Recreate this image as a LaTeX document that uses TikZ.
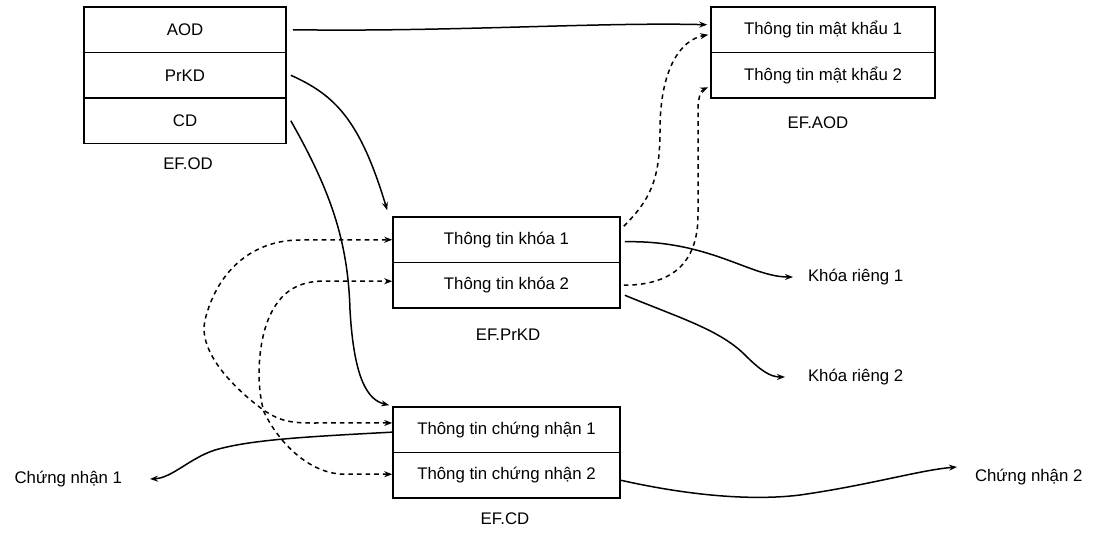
\documentclass[tikz,border=0pt]{standalone}
\usepackage{fontspec}
\setmainfont{Liberation Sans}
\usetikzlibrary{arrows.meta}
\begin{document}
\begin{tikzpicture}[x=0.5pt,y=-0.5pt,
  txt/.style={font=\fontsize{8.4}{10}\selectfont},
  cell/.style={txt, draw, line width=0.8pt, inner sep=0pt, minimum height=22.75pt},
  odcell/.style={cell, minimum width=101pt},
  aodcell/.style={cell, minimum width=112pt},
  filecell/.style={cell, minimum width=113.5pt},
  lbl/.style={txt, inner sep=0pt},
  ptip/.tip={Stealth[length=4pt,width=3pt]},
  link/.style={line width=0.75pt, -{ptip}},
  dlink/.style={line width=0.75pt, dash pattern=on 2.3pt off 2pt},
]
\useasboundingbox (0,0) rectangle (1096,534);

% EF.OD
\node[odcell] (aod)  at (185,29.75)  {AOD};
\node[odcell] (prkd) at (185,75.25)  {PrKD};
\node[odcell] (cd)   at (185,120.75) {CD};
\node[lbl] (lod) at (188,164) {EF.OD};

% EF.AOD
\node[aodcell] (mk1) at (823,29.75) {Thông tin mật khẩu 1};
\node[aodcell] (mk2) at (823,75.25) {Thông tin mật khẩu 2};
\node[lbl] (laod) at (818,123) {EF.AOD};

% EF.PrKD
\node[filecell] (pk1) at (506.5,239.75) {Thông tin khóa 1};
\node[filecell] (pk2) at (506.5,285.25) {Thông tin khóa 2};
\node[lbl] (lprkd) at (508,335) {EF.PrKD};

% EF.CD
\node[filecell] (cn1) at (506.5,429.75) {Thông tin chứng nhận 1};
\node[filecell] (cn2) at (506.5,475.25) {Thông tin chứng nhận 2};
\node[lbl] (lcd) at (505,519) {EF.CD};

% end labels
\node[lbl, anchor=west, outer xsep=7.5pt] (kr1) at (793,277) {Khóa riêng 1};
\node[lbl, anchor=west, outer xsep=11.5pt] (kr2) at (785,377) {Khóa riêng 2};
\node[lbl, anchor=east, outer xsep=14pt] (c1) at (150,479) {Chứng nhận 1};
\node[lbl, anchor=west, outer xsep=9pt] (c2) at (957,477) {Chứng nhận 2};

% EF.OD entries pointing to their files
\draw[link] ([xshift=3pt]aod.east) .. controls (450,32) and (600,22) .. ([shift={(-1.5pt,2.5pt)}]mk1.west);
\draw[link] ([xshift=2pt]prkd.east) .. controls (335,95) and (360,120) .. ([shift={(-2.5pt,3pt)}]pk1.north west);
\draw[link] ([xshift=2pt]cd.east) .. controls (330,190) and (348,240) .. (350,310)
  .. controls (354,380) and (368,400) .. ([shift={(-1.5pt,0.5pt)}]cn1.north west);

% key info to private keys
\draw[link] ([xshift=2pt,yshift=-1pt]pk1.east) .. controls (710,240) and (750,277) .. (kr1.west);
\draw[link] ([xshift=2pt,yshift=-5pt]pk2.east) .. controls (680,318) and (720,330) .. (745,355)
  .. controls (760,370) and (770,377) .. (kr2.west);

% certificate info to certificates
\draw[link] ([yshift=-1.2pt]cn1.west) .. controls (300,437) and (250,440) .. (215,450)
  .. controls (190,458) and (172,478) .. (c1.east);
\draw[link] ([yshift=-2.5pt]cn2.east) .. controls (700,498) and (760,500) .. (800,495)
  .. controls (870,485) and (920,470) .. ([yshift=5pt]c2.west);

% key info to password info
\draw[dlink, -{ptip}] ([xshift=1.5pt,yshift=-5pt]pk1.north east) .. controls (650,200) and (660,180) .. (660,130)
  .. controls (660,70) and (680,40) .. ([shift={(-1pt,-2.5pt)}]mk1.west);
\draw[dlink, -{ptip}] ([xshift=1.5pt]pk2.east) .. controls (670,285) and (698,265) .. (698,215)
  -- (698,110) .. controls (698,95) and (702,90) .. ([shift={(-1pt,-6pt)}]mk2.west);

% key info and certificate info
\draw[dlink, {ptip}-{ptip}] ([yshift=3.4pt]cn1.west) -- (310,423)
  .. controls (285,423) and (275,418) .. (262,409)
  .. controls (230,385) and (198,350) .. (205,320)
  .. controls (218,268) and (255,240) .. (300,240) -- (pk1.west);
\draw[dlink, {ptip}-{ptip}] ([yshift=0.5pt]cn2.west) -- (340,474)
  .. controls (310,472) and (280,445) .. (264,412)
  .. controls (256,385) and (258,345) .. (268,320)
  .. controls (280,290) and (300,281) .. (325,281) -- ([yshift=2pt]pk2.west);
\end{tikzpicture}
\end{document}
